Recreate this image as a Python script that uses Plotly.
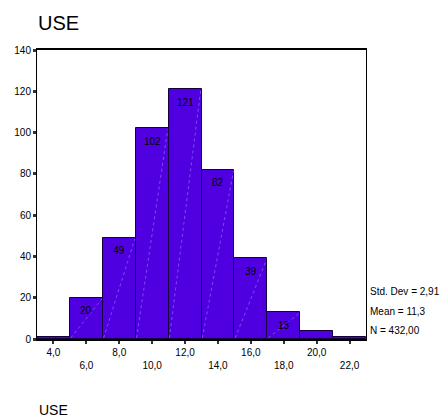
import plotly.graph_objects as go

bin_centers = [4, 6, 8, 10, 12, 14, 16, 18, 20, 22]
counts = [1, 20, 49, 102, 121, 82, 39, 13, 4, 1]
bar_labels = ["", "20", "49", "102", "121", "82", "39", "13", "", ""]
tick_vals = [4, 6, 8, 10, 12, 14, 16, 18, 20, 22]
tick_text = ["4,0", "<br>6,0", "8,0", "<br>10,0", "12,0", "<br>14,0", "16,0", "<br>18,0", "20,0", "<br>22,0"]
y_ticks = [0, 20, 40, 60, 80, 100, 120, 140]
stats_lines = ["Std. Dev = 2,91", "Mean = 11,3", "N = 432,00"]
stats_y = [22.8, 13.1, 3.9]
bin_width = 2

font_family = "Liberation Sans, Arial, sans-serif"

fig = go.Figure()
fig.add_trace(go.Bar(
    x=bin_centers, y=counts, width=bin_width,
    marker=dict(color="#5000E0", line=dict(color="#14003c", width=1)),
    hoverinfo="x+y",
))

# faint diagonal shading lines inside each bar (bottom-left to top-right)
for xc, c in zip(bin_centers, counts):
    if c > 5:
        fig.add_shape(type="line", xref="x", yref="y",
                      x0=xc - bin_width / 2 + 0.05, y0=0.5,
                      x1=xc + bin_width / 2 - 0.05, y1=c - 0.5,
                      line=dict(color="rgba(190,170,255,0.55)", width=0.8, dash="dot"))

# bar value labels near the top of each bar
for xc, c, lab in zip(bin_centers, counts, bar_labels):
    if lab:
        fig.add_annotation(x=xc, y=c, text=lab, showarrow=False, yshift=-13,
                           yanchor="middle", font=dict(size=10, color="#000000", family=font_family))

# page body has an 8px margin, so the figure is 440x409 and offset accordingly
fig.update_layout(
    width=440, height=409,
    margin=dict(l=29, r=82, t=42, b=78, autoexpand=False),
    paper_bgcolor="white", plot_bgcolor="white",
    showlegend=False,
    font=dict(family=font_family, color="#000000", size=10),
    bargap=0,
    xaxis=dict(range=[3, 23], tickvals=tick_vals, ticktext=tick_text, automargin=False,
               showgrid=False, zeroline=False, showline=True, linecolor="black",
               linewidth=2, mirror=True, ticks="outside", ticklen=3, tickwidth=2,
               tickcolor="#333", tickfont=dict(size=10)),
    yaxis=dict(range=[0, 140], tickvals=y_ticks, showgrid=False, zeroline=False,
               automargin=False,
               showline=True, linecolor="black", linewidth=1, mirror=True,
               ticks="outside", ticklen=3, tickwidth=3, tickcolor="#333",
               tickfont=dict(size=10)),
)

fig.add_annotation(text="USE", xref="paper", yref="paper", x=0, xshift=-1, y=1.0, yshift=27,
                   xanchor="left", yanchor="middle", showarrow=False,
                   font=dict(size=20, family=font_family))
fig.add_annotation(text="USE", xref="paper", yref="paper", x=0, y=0, yshift=-71,
                   xanchor="left", yanchor="middle", showarrow=False,
                   font=dict(size=14, family=font_family))
for line, yv in zip(stats_lines, stats_y):
    fig.add_annotation(text=line, xref="paper", yref="y", x=1.0, xshift=2,
                       y=yv, xanchor="left", yanchor="middle", showarrow=False,
                       font=dict(size=10, family=font_family))

fig.write_html("out.html")
